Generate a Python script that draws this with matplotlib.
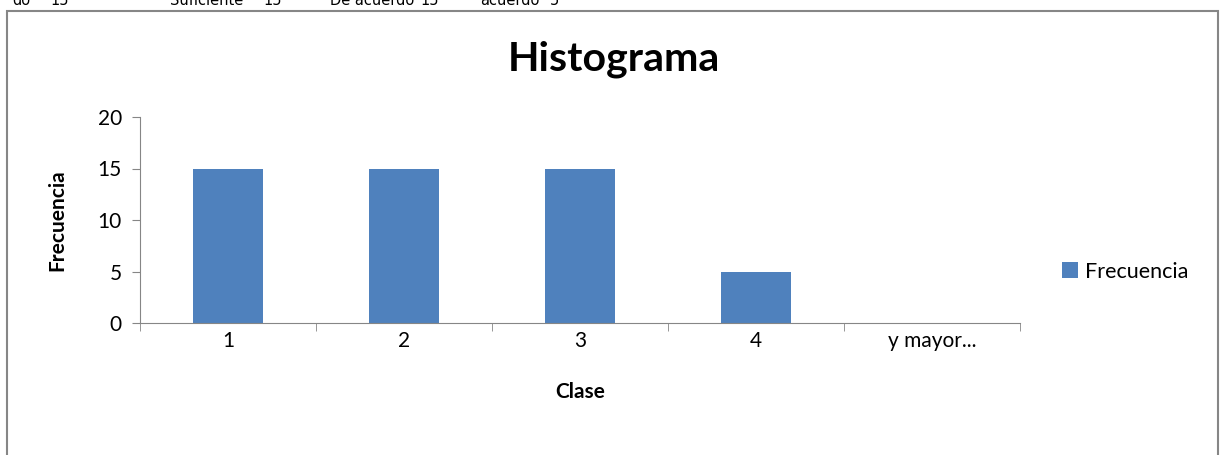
import matplotlib.pyplot as plt
from matplotlib.patches import Rectangle

# data
clases = ["1", "2", "3", "4", "y mayor..."]
frecuencia = [15, 15, 15, 5, 0]
celdas_txt = ["do", "15", "Suficiente", "15", "De acuerdo", "15", "acuerdo", "5"]
celdas_x = [12, 50, 170, 263, 330, 420, 480, 550]

plt.rcParams['font.family'] = ['Lato', 'DejaVu Sans']
gris = '#868686'
azul = '#4F81BD'
W, H = 1226, 455

fig = plt.figure(figsize=(W / 100, H / 100), dpi=100)

# outer chart frame (cut off at the bottom)
fig.patches.append(Rectangle((7 / W, -0.02), 1211 / W, 1.02 - 11 / H,
                             transform=fig.transFigure, fill=False,
                             edgecolor=gris, linewidth=1.5))

# spreadsheet cells sticking in at the top
for txt, x in zip(celdas_txt, celdas_x):
    fig.text(x / W, 1 - 5 / H, txt, fontsize=10.5, va='baseline', ha='left',
             family='DejaVu Sans')

ax = fig.add_axes([140 / W, 132 / H, 880 / W, 206 / H])
pos = list(range(len(clases)))
ax.bar(pos, frecuencia, width=0.4, color=azul, label='Frecuencia')
ax.set_xlim(-0.5, len(clases) - 0.5)
ax.set_ylim(0, 20)
ax.set_yticks([0, 5, 10, 15, 20])
ax.set_xticks(pos)
ax.set_xticklabels(clases)
ax.set_xticks([p - 0.5 for p in range(len(clases) + 1)], minor=True)
ax.tick_params(axis='x', which='major', length=0, labelsize=15, pad=6)
ax.tick_params(axis='x', which='minor', length=6, color=gris, direction='out')
ax.tick_params(axis='y', length=6, color=gris, labelsize=15, pad=7)
for s in ['top', 'right']:
    ax.spines[s].set_visible(False)
for s in ['left', 'bottom']:
    ax.spines[s].set_color(gris)

fig.text(614 / W, 1 - 70 / H, 'Histograma', fontsize=29.5, fontweight='bold',
         ha='center', va='baseline')
ax.set_xlabel('Clase', fontsize=15, fontweight='bold', labelpad=22)
ax.set_ylabel('Frecuencia', fontsize=15, fontweight='bold', labelpad=22)

ax.legend(loc='center left', bbox_to_anchor=(1.026, 0.25), frameon=False,
          fontsize=15.5, handlelength=0.75, handleheight=0.75, handletextpad=0.3)

fig.savefig('out.png', dpi=100)
